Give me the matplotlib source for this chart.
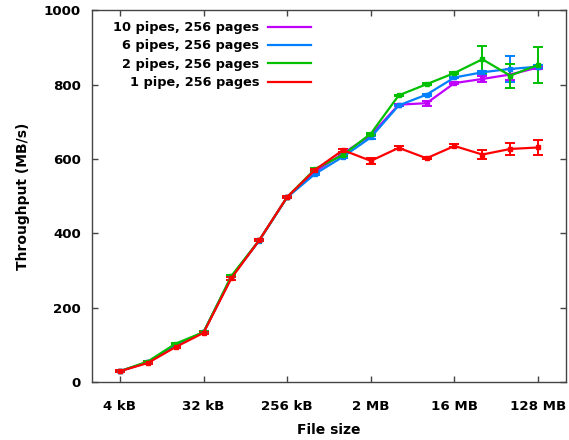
import matplotlib
matplotlib.use("Agg")
from matplotlib import pyplot as plt
from matplotlib.lines import Line2D

# file sizes in kB (powers of two, 4 kB .. 128 MB)
sizes_kb = [4, 8, 16, 32, 64, 128, 256, 512, 1024, 2048, 4096, 8192,
            16384, 32768, 65536, 131072]

pipe1 = [30, 52, 95, 133, 280, 382, 498, 571, 624, 595, 630, 602, 635, 612, 627, 631]
pipe1_err = [2, 2, 2, 3, 4, 2, 2, 3, 4, 8, 4, 3, 4, 12, 17, 20]

pipe2 = [30, 56, 104, 135, 286, 382, 498, 573, 611, 668, 771, 801, 831, 868, 824, 853]
pipe2_err = [1, 1, 2, 2, 2, 2, 2, 2, 2, 3, 2, 2, 2, 36, 32, 49]

pipe6 = [30, 54, 98, 134, 283, 381, 497, 560, 606, 658, 744, 773, 819, 833, 842, 848]
pipe6_err = [1, 1, 1, 1, 1, 1, 2, 2, 2, 3, 2, 3, 2, 4, 36, 4]

pipe10 = [30, 54, 98, 135, 283, 382, 498, 566, 615, 664, 746, 750, 804, 815, 827, 846]
pipe10_err = [1, 1, 1, 1, 1, 1, 2, 2, 2, 3, 3, 7, 3, 8, 15, 4]

tick_kb = [4, 32, 256, 2048, 16384, 131072]
tick_labels = ["4 kB", "32 kB", "256 kB", "2 MB", "16 MB", "128 MB"]

series = [
    ("10 pipes, 256 pages", pipe10, pipe10_err, "#c000ff"),
    ("6 pipes, 256 pages", pipe6, pipe6_err, "#0080ff"),
    ("2 pipes, 256 pages", pipe2, pipe2_err, "#00c000"),
    ("1 pipe, 256 pages", pipe1, pipe1_err, "#ff0000"),
]

plt.rcParams['font.family'] = ['DejaVu Sans']
plt.rcParams['font.weight'] = 'bold'

fig = plt.figure(figsize=(5.69, 4.40), dpi=100)
ax = fig.add_axes([0.1617, 0.131, 0.8330, 0.846])

handles = []
for name, vals, err, col in series:
    ax.errorbar(sizes_kb, vals, yerr=err, color=col, lw=1.6, marker='s',
                markersize=2.5, capsize=3.5, elinewidth=1.4, capthick=1.4)
    handles.append(Line2D([0], [0], color=col, lw=1.6))

ax.set_xscale('log', base=2)
ax.set_xlim(2, 262144)
ax.set_ylim(0, 1000)
ax.set_xticks(tick_kb)
ax.set_xticklabels(tick_labels)
ax.minorticks_off()
ax.set_yticks([0, 200, 400, 600, 800, 1000])
ax.tick_params(direction='in', top=True, right=True, length=4, width=1,
               color='#444444', labelsize=9.6, pad=8)
ax.tick_params(axis='x', pad=13)
for s in ax.spines.values():
    s.set_color('#444444')
    s.set_linewidth(1)

ax.set_xlabel("File size", fontsize=10, fontweight='bold', labelpad=7)
ax.set_ylabel("Throughput (MB/s)", fontsize=10, fontweight='bold', labelpad=10)

ax.legend(handles, [s[0] for s in series], loc='upper left',
          bbox_to_anchor=(0.025, 0.995), frameon=False, markerfirst=False,
          fontsize=9.3, handlelength=3.35, labelspacing=0.42, handletextpad=0.7,
          borderaxespad=0.3)

fig.savefig("out.png", dpi=100)
